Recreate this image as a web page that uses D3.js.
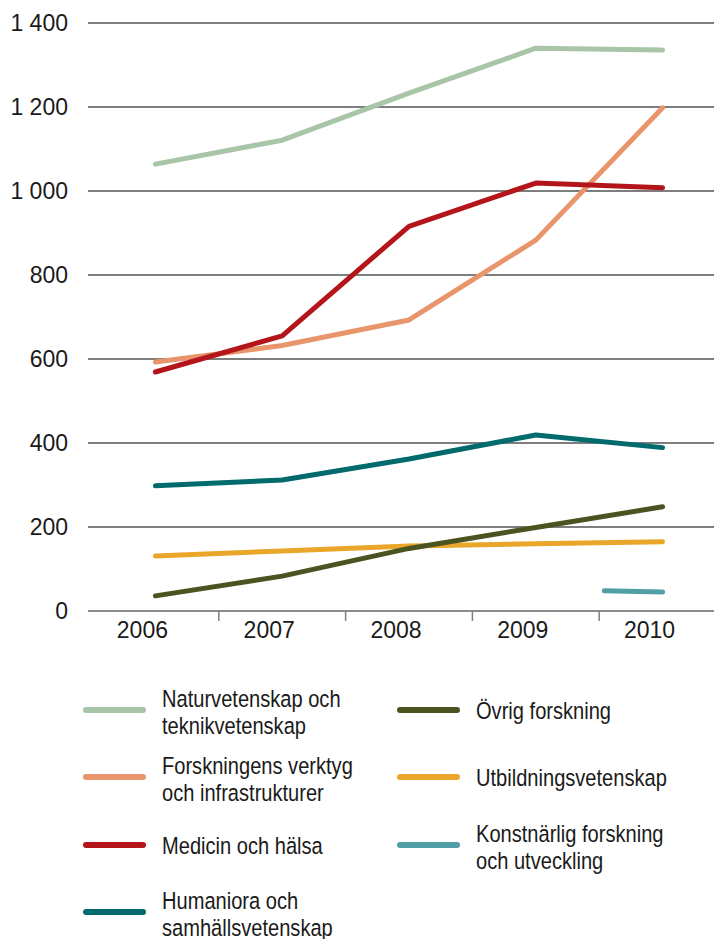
<!DOCTYPE html>
<html>
<head>
<meta charset="utf-8">
<script src="https://cdn.jsdelivr.net/npm/d3@7"></script>
<style>
  html, body { margin: 0; padding: 0; background: #fff; }
  svg text { fill: #1a1a1a; }
  .tick-label { font-family: "Liberation Sans", Arial, sans-serif; font-size: 23px; }
  .legend-label { font-family: "Liberation Sans", Arial, sans-serif; font-size: 24.5px; }
</style>
</head>
<body>
<div id="chart"></div>
<script>
(function() {
"use strict";

// values (MSEK)
var years = [2006, 2007, 2008, 2009, 2010];
var naturvetenskap = [1064, 1121, 1233, 1340, 1336];
var forskningensVerktyg = [593, 632, 693, 883, 1198];
var medicin = [569, 655, 916, 1019, 1008];
var humaniora = [298, 312, 362, 419, 389];
var ovrig = [36, 83, 149, 199, 248];
var utbildning = [131, 143, 155, 160, 165];
// konstnärlig only shows a short piece ending at 2010
var konstnarligYears = [2009.54, 2010];
var konstnarlig = [48, 45];
var yTicks = [0, 200, 400, 600, 800, 1000, 1200, 1400];

var seriesNames = [
  ["Naturvetenskap och", "teknikvetenskap"],
  ["Forskningens verktyg", "och infrastrukturer"],
  ["Medicin och hälsa"],
  ["Humaniora och", "samhällsvetenskap"],
  ["Övrig forskning"],
  ["Utbildningsvetenskap"],
  ["Konstnärlig forskning", "och utveckling"]
];
var seriesColors = ["#a9c5a8", "#e9956b", "#b3151a", "#006a6d", "#4b5320", "#e9a62a", "#519ea7"];

var W = 714, H = 939;
var svg = d3.select("#chart").append("svg")
  .attr("width", W)
  .attr("height", H);

var x = d3.scaleBand().domain(years).range([92, 726]).paddingInner(0).paddingOuter(0);
var xPos = d3.scaleLinear()
  .domain([years[0], years[years.length - 1]])
  .range([x(years[0]) + x.bandwidth() / 2, x(years[years.length - 1]) + x.bandwidth() / 2]);
var y = d3.scaleLinear().domain([0, 1400]).range([611, 23]);

// gridlines
svg.append("g").selectAll("line")
  .data(yTicks)
  .enter()
  .append("line")
  .attr("x1", 88)
  .attr("x2", W)
  .attr("y1", function(d) { return y(d); })
  .attr("y2", function(d) { return y(d); })
  .attr("stroke", function(d) { return d === 0 ? "#8c8c8c" : "#7e7e7e"; })
  .attr("stroke-width", 1.8);

// y labels
svg.append("g").selectAll("text")
  .data(yTicks)
  .enter()
  .append("text")
  .attr("class", "tick-label")
  .attr("x", 68)
  .attr("y", function(d) { return y(d) + 8; })
  .attr("text-anchor", "end")
  .text(function(d) { return d3.format(",")(d).replace(",", " "); });

// x ticks between the years
svg.append("g").selectAll("line")
  .data(years.slice(1))
  .enter()
  .append("line")
  .attr("x1", function(d) { return x(d); })
  .attr("x2", function(d) { return x(d); })
  .attr("y1", y(0))
  .attr("y2", y(0) + 10)
  .attr("stroke", "#7e7e7e")
  .attr("stroke-width", 1.5);

svg.append("g").selectAll("text")
  .data(years)
  .enter()
  .append("text")
  .attr("class", "tick-label")
  .attr("x", function(d) { return x(d) + x.bandwidth() / 2 - 13; })
  .attr("y", 638)
  .attr("text-anchor", "middle")
  .text(function(d) { return d; });

// lines
var line = d3.line()
  .x(function(d) { return xPos(d[0]); })
  .y(function(d) { return y(d[1]); });

var seriesValues = [naturvetenskap, forskningensVerktyg, medicin, humaniora, ovrig, utbildning];
var drawOrder = [0, 1, 3, 5, 4, 2];
drawOrder.forEach(function(i) {
  var pts = years.map(function(yr, j) { return [yr, seriesValues[i][j]]; });
  svg.append("path")
    .attr("d", line(pts))
    .attr("fill", "none")
    .attr("stroke", seriesColors[i])
    .attr("stroke-width", 5)
    .attr("stroke-linecap", "round")
    .attr("stroke-linejoin", "round");
});
svg.append("path")
  .attr("d", line(konstnarligYears.map(function(yr, j) { return [yr, konstnarlig[j]]; })))
  .attr("fill", "none")
  .attr("stroke", seriesColors[6])
  .attr("stroke-width", 5)
  .attr("stroke-linecap", "round");

// legend
var legendCols = [{lx: 86, tx: 162}, {lx: 400, tx: 476}];
var legendRows = [710, 777, 845, 912];
var legend = svg.append("g").selectAll("g")
  .data(seriesNames)
  .enter()
  .append("g")
  .attr("transform", function(d, i) {
    var row = i < 4 ? i : i - 4;
    return "translate(0," + legendRows[row] + ")";
  });

legend.append("line")
  .attr("x1", function(d, i) { return legendCols[i < 4 ? 0 : 1].lx; })
  .attr("x2", function(d, i) { return legendCols[i < 4 ? 0 : 1].lx + 57; })
  .attr("stroke", function(d, i) { return seriesColors[i]; })
  .attr("stroke-width", 6)
  .attr("stroke-linecap", "round");

// the original face is a narrow one, so squeeze the text sideways
legend.each(function(d, i) {
  var tx = legendCols[i < 4 ? 0 : 1].tx;
  var g = d3.select(this).append("g")
    .attr("transform", "translate(" + tx + ",0) scale(0.82,1)");
  var startY = d.length === 1 ? 9 : -3;
  d.forEach(function(s, k) {
    g.append("text")
      .attr("class", "legend-label")
      .attr("x", 0)
      .attr("y", startY + k * 27)
      .text(s);
  });
});

})();
</script>
</body>
</html>
